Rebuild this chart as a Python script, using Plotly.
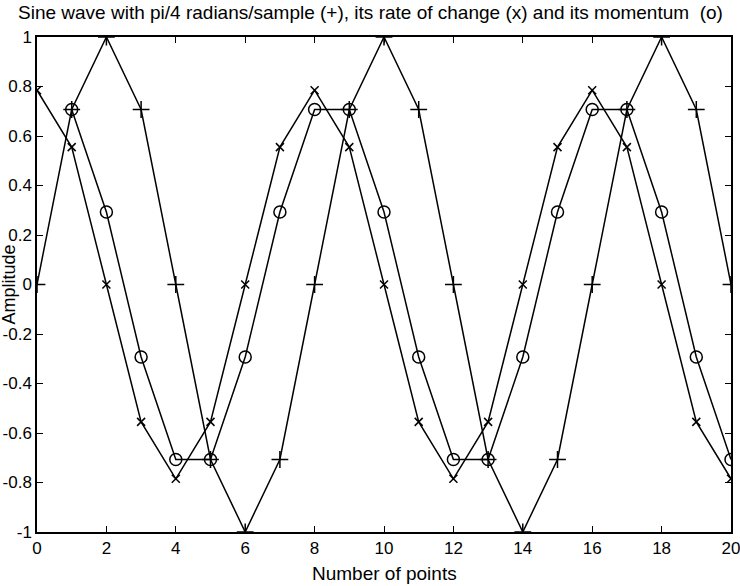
import plotly.graph_objects as go

n_points = list(range(21))
sine = [0, 0.707, 1, 0.707, 0, -0.707, -1, -0.707, 0, 0.707, 1, 0.707, 0,
        -0.707, -1, -0.707, 0, 0.707, 1, 0.707, 0]
rate = [0.785, 0.555, 0, -0.555, -0.785, -0.555, 0, 0.555, 0.785, 0.555, 0,
        -0.555, -0.785, -0.555, 0, 0.555, 0.785, 0.555, 0, -0.555, -0.785]
mom_x = list(range(1, 21))
momentum = [0.707, 0.293, -0.293, -0.707, -0.707, -0.293, 0.293, 0.707, 0.707,
            0.293, -0.293, -0.707, -0.707, -0.293, 0.293, 0.707, 0.707, 0.293,
            -0.293, -0.707]
x_ticks = list(range(0, 21, 2))
y_ticks = [1, 0.8, 0.6, 0.4, 0.2, 0, -0.2, -0.4, -0.6, -0.8, -1]
y_labels = ["1", "0.8", "0.6", "0.4", "0.2", "0", "-0.2", "-0.4", "-0.6", "-0.8", "-1"]

FONT = "Liberation Sans, Arial"
line = dict(color="black", width=1.5)
fig = go.Figure()
fig.add_trace(go.Scatter(x=n_points, y=sine, mode="lines+markers", line=line,
                         marker=dict(symbol="cross-thin-open", size=12,
                                     line=dict(color="black", width=1.5))))
fig.add_trace(go.Scatter(x=n_points, y=rate, mode="lines+markers", line=line,
                         marker=dict(symbol="x-thin-open", size=8,
                                     line=dict(color="black", width=1.5))))
fig.add_trace(go.Scatter(x=mom_x, y=momentum, mode="lines+markers", line=line,
                         marker=dict(symbol="circle-open", size=12, color="black",
                                     line=dict(color="black", width=1.5))))

axis_common = dict(showline=True, linecolor="black", linewidth=1.5, mirror="ticks",
                   ticks="inside", ticklen=6, tickcolor="black", tickwidth=1,
                   showgrid=False, zeroline=False, automargin=False,
                   ticklabeloverflow="allow",
                   tickfont=dict(family=FONT, size=17, color="black"))
fig.update_layout(
    width=740, height=586,
    margin=dict(l=37, r=9, t=37, b=54),
    paper_bgcolor="white", plot_bgcolor="white",
    showlegend=False,
    xaxis=dict(range=[0, 20], tickvals=x_ticks, **axis_common),
    yaxis=dict(range=[-1, 1], tickvals=y_ticks, ticktext=y_labels, **axis_common),
    annotations=[
        dict(text="Sine wave with pi/4 radians/sample (+), its rate of change (x) and its momentum  (o)",
             xref="paper", yref="paper", x=0.48, y=1, yshift=25, showarrow=False,
             xanchor="center", yanchor="middle",
             font=dict(family=FONT, size=19, color="black")),
        dict(text="Number of points", xref="paper", yref="paper", x=0.5, y=0,
             yshift=-41, showarrow=False, xanchor="center", yanchor="middle",
             font=dict(family=FONT, size=19, color="black")),
        dict(text="Amplitude", xref="paper", yref="paper", x=0, y=0.5,
             xshift=-29, showarrow=False, textangle=-90, xanchor="center",
             yanchor="middle", font=dict(family=FONT, size=18, color="black")),
    ],
)
fig.write_html("out.html")
